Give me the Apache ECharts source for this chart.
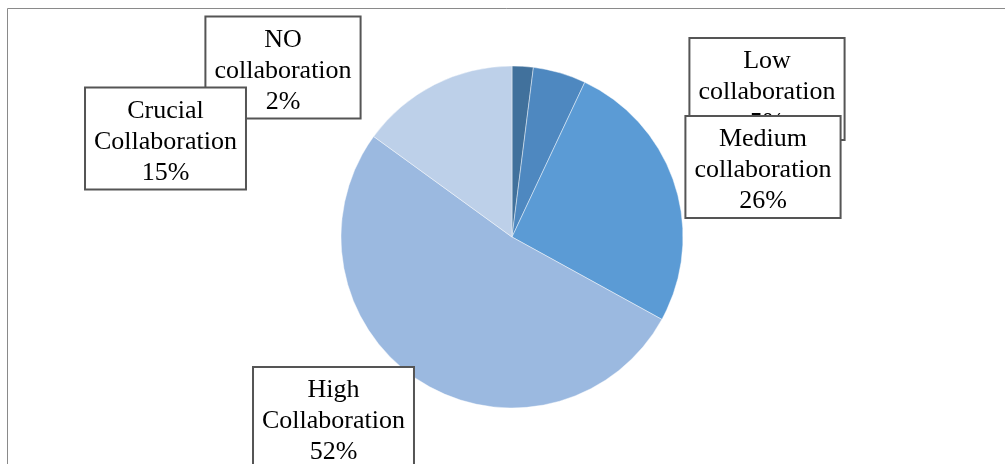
<!DOCTYPE html>
<html>
<head>
<meta charset="utf-8">
<script src="https://cdn.jsdelivr.net/npm/echarts@6/dist/echarts.min.js"></script>
<style>
  html, body { margin: 0; padding: 0; background: #ffffff; }
  #chart { width: 1005px; height: 464px; }
</style>
</head>
<body>
<div id="chart"></div>
<script>
// Levels of collaboration and their shares (percent)
const categories = ['NO collaboration', 'Low collaboration', 'Medium collaboration', 'High Collaboration', 'Crucial Collaboration'];
const shares = [2, 5, 26, 52, 15];
const sliceColors = ['#41719c', '#4e88c0', '#5b9bd5', '#9bb9e0', '#bdd0e9'];

// Callout boxes: horizontal centre and top edge, in pixels
const labelSpots = [[283, 17.5], [767, 39], [763, 117], [333.5, 368], [165.5, 88.5]];

const chart = echarts.init(document.getElementById('chart'), null, { renderer: 'canvas' });

chart.setOption({
  animation: false,
  backgroundColor: '#ffffff',
  graphic: [{
    type: 'rect',
    shape: { x: 7.5, y: 8.5, width: 1010, height: 500 },
    style: { fill: 'none', stroke: '#8a8a8a', lineWidth: 1 },
    silent: true,
    z: -1
  }],
  series: [{
    type: 'pie',
    center: [512, 237],
    radius: 171,
    startAngle: 90,
    clockwise: true,
    avoidLabelOverlap: false,
    data: categories.map((name, i) => ({
      name: name,
      value: shares[i],
      itemStyle: { color: sliceColors[i] }
    })),
    itemStyle: { borderColor: 'rgba(255,255,255,0.55)', borderWidth: 0.8 },
    label: {
      show: true,
      position: 'outside',
      formatter: p => p.name.replace(' ', '\n') + '\n' + p.value + '%',
      fontFamily: '"Liberation Serif", "Times New Roman", serif',
      fontSize: 26,
      lineHeight: 31,
      color: '#000000',
      align: 'center',
      backgroundColor: '#ffffff',
      borderColor: '#555555',
      borderWidth: 2,
      padding: [7, 8, 0, 8]
    },
    labelLine: { show: false },
    labelLayout: function (params) {
      const spot = labelSpots[params.dataIndex];
      return {
        x: spot[0],
        y: spot[1],
        align: 'center',
        verticalAlign: 'top',
        hideOverlap: false,
        moveOverlap: null
      };
    },
    emphasis: { disabled: true }
  }]
});
</script>
</body>
</html>
